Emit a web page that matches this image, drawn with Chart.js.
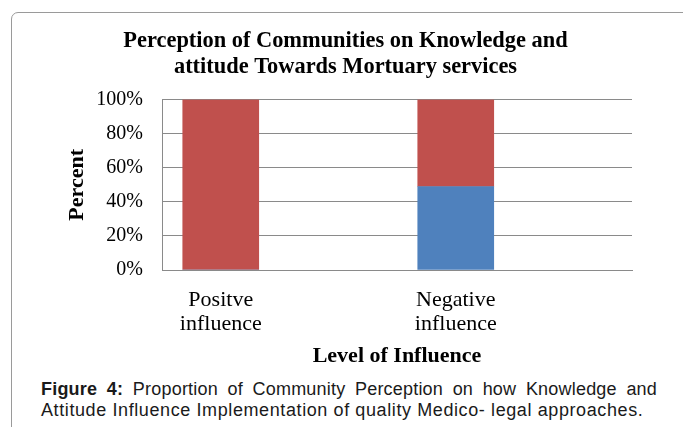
<!DOCTYPE html>
<html>
<head>
<meta charset="utf-8">
<script src="https://cdn.jsdelivr.net/npm/chart.js@4"></script>
<style>
  html, body { margin: 0; padding: 0; background: #fff; width: 683px; height: 427px; overflow: hidden; }
  #frame { position: absolute; left: 11px; top: 12px; width: 720px; height: 500px; border: 1px solid #9a9a9a; border-radius: 7px; box-sizing: border-box; }
  #wrap { position: absolute; left: 0; top: 0; width: 683px; height: 372px; }
  #caption { position: absolute; left: 41px; top: 379px; width: 616px; font-family: 'Liberation Sans', Arial, sans-serif; font-size: 18px; line-height: 21px; color: #1a1a1a; }
  #caption .l1 { text-align: justify; text-align-last: justify; white-space: nowrap; letter-spacing: 0.2px; }
  #caption .l2 { white-space: nowrap; letter-spacing: 0.6px; }
</style>
</head>
<body>
<div id="frame"></div>
<div id="wrap"><canvas id="c" width="683" height="372"></canvas></div>
<div id="caption">
  <div class="l1"><b>Figure 4:</b> Proportion of Community Perception on how Knowledge and</div>
  <div class="l2">Attitude Influence Implementation of quality Medico- legal approaches.</div>
</div>
<script>
const categories = [["Positve", "influence"], ["Negative", "influence"]];
const negativeShare = [0, 49];   // blue series (bottom)
const positiveShare = [100, 51]; // red series (top)
const yTicks = [0, 20, 40, 60, 80, 100];
const chartTitle = ["Perception of Communities on Knowledge and", "attitude Towards Mortuary services"];
const yTitle = "Percent";
const xTitle = "Level of Influence";

const serif = "'Liberation Serif', 'Times New Roman', serif";

new Chart(document.getElementById('c'), {
  type: 'bar',
  data: {
    datasets: [
      { label: 'Series 2', data: negativeShare.map((v, i) => ({ x: i, y: v })), backgroundColor: '#4F81BD', barThickness: 76 },
      { label: 'Series 1', data: positiveShare.map((v, i) => ({ x: i, y: v })), backgroundColor: '#C0504D', barThickness: 76 }
    ]
  },
  options: {
    responsive: false,
    animation: false,
    layout: { padding: { left: 8, right: 0, top: 0, bottom: 0 } },
    plugins: {
      legend: { display: false },
      tooltip: { enabled: false },
      title: {
        display: true,
        text: chartTitle,
        color: '#000',
        font: { family: serif, size: 22.4, weight: 'bold', lineHeight: 1.13 },
        padding: { top: 29, bottom: 20 }
      }
    },
    scales: {
      x: {
        type: 'linear',
        stacked: true,
        offset: false,
        min: -0.25,
        max: 1.75,
        afterBuildTicks: (axis) => { axis.ticks = categories.map((_, i) => ({ value: i })); },
        afterFit: (s) => { s.height = 102; },
        grid: { display: false, drawTicks: false },
        border: { display: true, color: '#8a8a8a', width: 1 },
        ticks: {
          autoSkip: false,
          maxRotation: 0,
          padding: 18,
          color: '#000',
          font: { family: serif, size: 22, lineHeight: 1.1 },
          callback: (v) => categories[v] || ''
        },
        title: {
          display: true,
          text: xTitle,
          color: '#000',
          font: { family: serif, size: 22, weight: 'bold', lineHeight: 1.2 },
          padding: { top: 6, bottom: 2 }
        }
      },
      y: {
        stacked: true,
        min: 0,
        max: 100,
        afterBuildTicks: (axis) => { axis.ticks = yTicks.map(v => ({ value: v })); },
        afterFit: (s) => { s.width = 154; },
        grid: { color: '#8a8a8a', lineWidth: 1, drawTicks: false },
        border: { display: true, color: '#8a8a8a', width: 1 },
        ticks: {
          padding: 19,
          color: '#000',
          font: { family: serif, size: 20 },
          callback: (v) => v + '%'
        },
        title: {
          display: true,
          text: yTitle,
          color: '#000',
          font: { family: serif, size: 22, weight: 'bold', lineHeight: 1.2 },
          padding: { top: 56, bottom: 0 }
        }
      },
      yRight: {
        position: 'right',
        display: true,
        afterFit: (s) => { s.width = 51; },
        grid: { display: false, drawTicks: false },
        border: { display: false },
        ticks: { display: false }
      }
    }
  }
});
</script>
</body>
</html>
